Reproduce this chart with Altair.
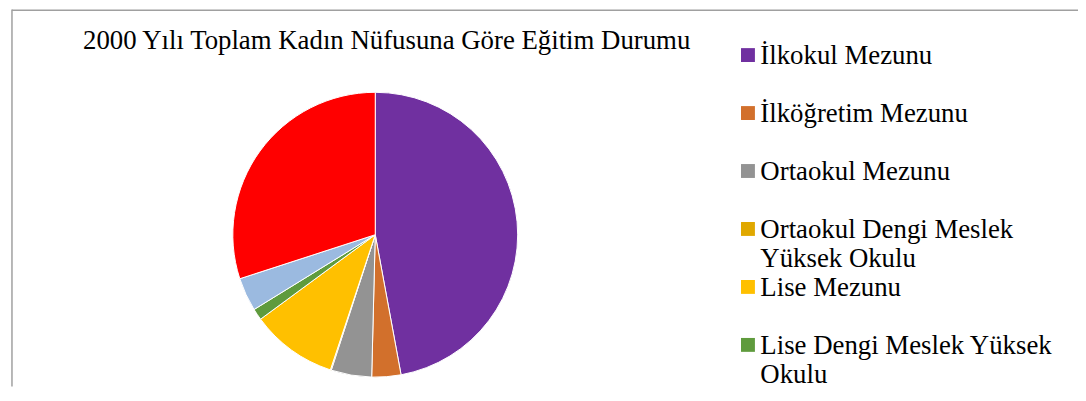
import altair as alt
import pandas as pd

TITLE = "2000 Yılı Toplam Kadın Nüfusuna Göre Eğitim Durumu"

categories = [
    "İlkokul Mezunu",
    "İlköğretim Mezunu",
    "Ortaokul Mezunu",
    "Ortaokul Dengi Meslek Yüksek Okulu",
    "Lise Mezunu",
    "Lise Dengi Meslek Yüksek Okulu",
    "Yüksekokul veya Fakülte Mezunu",
    "Okul Bitirmeyen",
]
legend_labels = [
    "İlkokul Mezunu",
    "İlköğretim Mezunu",
    "Ortaokul Mezunu",
    "Ortaokul Dengi Meslek|Yüksek Okulu",
    "Lise Mezunu",
    "Lise Dengi Meslek Yüksek|Okulu",
    "Yüksekokul veya Fakülte|Mezunu",
    "Okul Bitirmeyen",
]
values = [47.1, 3.3, 4.6, 0.1, 9.8, 1.3, 3.8, 30.0]
colors = ["#7030A0", "#D2702C", "#939393", "#E0A800", "#FFC000", "#5F9B3D", "#9BBAE0", "#FF0000"]
# the legend in the reference is cut off below its sixth entry
VISIBLE_LEGEND_ROWS = 6

df = pd.DataFrame({
    "cat": categories,
    "label": legend_labels,
    "value": values,
    "idx": list(range(len(categories))),
})

W, H = 1078, 380
color = alt.Color("cat:N", scale=alt.Scale(domain=categories, range=colors), legend=None)
ypos = alt.Y("idx:Q", scale=alt.Scale(domain=[0, 7], range=[46, 46 + 7 * 58.4]), axis=None)

base = alt.Chart(df)
legend_base = base.transform_filter(alt.datum.idx < VISIBLE_LEGEND_ROWS)

pie = base.mark_arc(outerRadius=143.5, stroke="white", strokeWidth=1).encode(
    theta=alt.Theta("value:Q", stack=True),
    color=color,
    order=alt.Order("idx:Q"),
    x=alt.value(370),
    y=alt.value(227),
)

squares = legend_base.mark_square(size=196, opacity=1, filled=True).encode(
    x=alt.value(745.5),
    y=ypos,
    color=color,
)

labels = legend_base.mark_text(
    align="left", baseline="alphabetic", font="Liberation Serif", fontSize=27,
    lineBreak="|", lineHeight=30, dy=8.8, color="#000000",
).encode(
    x=alt.value(758),
    y=ypos,
    text="label:N",
)

title = alt.Chart(pd.DataFrame({"t": [TITLE]})).mark_text(
    align="center", baseline="alphabetic", font="Liberation Serif", fontSize=27,
    color="#000000",
).encode(text="t:N", x=alt.value(381.5), y=alt.value(40))

left_border = alt.Chart(pd.DataFrame({"t": [0]})).mark_rule(color="#A0A0A0", strokeWidth=1.5).encode(
    x=alt.value(4), y=alt.value(0), y2=alt.value(H)
)
top_border = alt.Chart(pd.DataFrame({"t": [0]})).mark_rule(color="#A0A0A0", strokeWidth=1.5).encode(
    x=alt.value(4), x2=alt.value(W), y=alt.value(0.75)
)

chart = alt.layer(left_border, top_border, pie, squares, labels, title).properties(
    width=W, height=H, autosize=alt.AutoSizeParams(type="none"), padding=0,
).configure_view(stroke=None).resolve_scale(y="shared")

chart.save("out.html", embed_options={"renderer": "svg", "actions": False})
